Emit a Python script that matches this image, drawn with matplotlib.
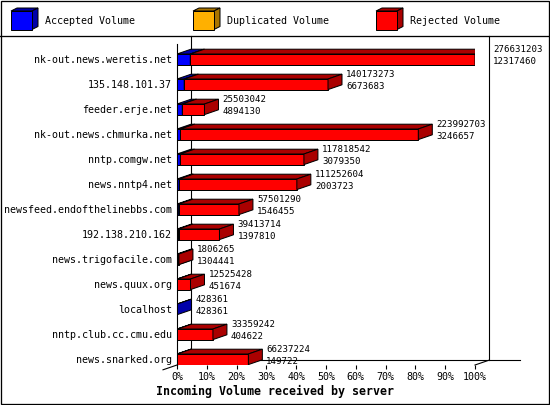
import matplotlib
matplotlib.use("Agg")
import matplotlib.pyplot as plt
from matplotlib.patches import Polygon, Rectangle

hosts = ['nk-out.news.weretis.net', '135.148.101.37', 'feeder.erje.net',
         'nk-out.news.chmurka.net', 'nntp.comgw.net', 'news.nntp4.net',
         'newsfeed.endofthelinebbs.com', '192.138.210.162', 'news.trigofacile.com',
         'news.quux.org', 'localhost', 'nntp.club.cc.cmu.edu', 'news.snarked.org']
total_volume = [276631203, 140173273, 25503042, 223992703, 117818542, 111252604,
                57501290, 39413714, 1806265, 12525428, 428361, 33359242, 66237224]
accepted_volume = [12317460, 6673683, 4894130, 3246657, 3079350, 2003723,
                   1546455, 1397810, 1304441, 451674, 428361, 404622, 149722]
duplicated_volume = [0] * 13
series_names = ['Accepted Volume', 'Duplicated Volume', 'Rejected Volume']
xtick_values = [0, 10, 20, 30, 40, 50, 60, 70, 80, 90, 100]
x_title = 'Incoming Volume received by server'

FRONT = ['#0000FF', '#FFB000', '#FF0000']
DARK = ['#0000AA', '#AA7500', '#AA0000']
MONO = 'DejaVu Sans Mono'
PX = 1.0 / 100 * 72  # one pixel in points at dpi 100

W, H = 550, 405
fig = plt.figure(figsize=(W / 100, H / 100), dpi=100)
fig.patch.set_facecolor('white')

# background / frame axes in pixel units
bg = fig.add_axes([0, 0, 1, 1])
bg.set_xlim(0, W)
bg.set_ylim(H, 0)
bg.axis('off')
bg.add_patch(Rectangle((0.5, 0.5), W - 1.5, H - 1.5, fill=False, ec='black', lw=PX * 1.3))
bg.plot([0, W], [35.5, 35.5], color='black', lw=PX * 1.3)

# legend
leg_x = [11, 193, 376]
for k, name in enumerate(series_names):
    x0 = leg_x[k]
    y0, y1 = 11, 29.5
    w = 21
    d, e = 6, 3
    bg.add_patch(Polygon([(x0, y0), (x0 + d, y0 - e), (x0 + w + d, y0 - e), (x0 + w, y0)],
                         closed=True, fc=DARK[k], ec='black', lw=PX))
    bg.add_patch(Polygon([(x0 + w, y0), (x0 + w + d, y0 - e), (x0 + w + d, y1 - e), (x0 + w, y1)],
                         closed=True, fc=DARK[k], ec='black', lw=PX))
    bg.add_patch(Rectangle((x0, y0), w, y1 - y0, fc=FRONT[k], ec='black', lw=PX))
    bg.text(x0 + 34, 20.5, name, family=MONO, fontsize=7.2, va='center', ha='left')

# main plotting axes: x in percent, y in row index
ax_left, ax_right = 177, 475
ax_top, ax_bot = 35.5, 365
row0, row_step = 59.3, 25.0
y_top = (ax_top - row0) / row_step
y_floor = (ax_bot - row0) / row_step
ax = fig.add_axes([ax_left / W, 1 - ax_bot / H, (ax_right - ax_left) / W, (ax_bot - ax_top) / H])
ax.patch.set_alpha(0)
ax.set_xlim(0, 100)
ax.set_ylim(y_floor, y_top)

px_x = 100.0 / (ax_right - ax_left)
DX = 14 * px_x
DY = 4.8 / row_step
half = 5.3 / row_step

# back walls
lw = PX * 1.1
ax.plot([DX, DX], [y_top, y_floor - DY], color='black', lw=lw, clip_on=False, zorder=1)
ax.plot([100 + DX, 100 + DX], [y_top, y_floor - DY], color='black', lw=lw, clip_on=False, zorder=1)
ax.plot([DX, (520 - ax_left) * px_x], [y_floor - DY, y_floor - DY], color='black', lw=lw,
        clip_on=False, zorder=1)
ax.plot([-DX, DX], [y_floor + DY, y_floor - DY], color='black', lw=lw, clip_on=False, zorder=1)
ax.plot([100, 100 + DX], [y_floor, y_floor - DY], color='black', lw=lw, clip_on=False, zorder=1)

vmax = max(total_volume)
for i in range(len(hosts)):
    rejected = total_volume[i] - accepted_volume[i] - duplicated_volume[i]
    segs = [accepted_volume[i], duplicated_volume[i], rejected]
    start = 0.0
    top, bot = i - half, i + half
    for k, v in enumerate(segs):
        if v <= 0:
            continue
        w = v / vmax * 100
        x0, x1 = start, start + w
        ax.add_patch(Polygon([(x0, bot), (x0, top), (x1, top), (x1, bot)], closed=True,
                             fc=FRONT[k], ec='black', lw=PX, zorder=3, joinstyle='miter'))
        ax.add_patch(Polygon([(x0, top), (x0 + DX, top - DY), (x1 + DX, top - DY), (x1, top)],
                             closed=True, fc=DARK[k], ec='black', lw=PX, zorder=3))
        ax.add_patch(Polygon([(x1, top), (x1 + DX, top - DY), (x1 + DX, bot - DY), (x1, bot)],
                             closed=True, fc=DARK[k], ec='black', lw=PX, zorder=3))
        start = x1
    xl = start + DX + 4 * px_x
    ax.text(xl, i - 0.38, str(total_volume[i]), family=MONO, fontsize=6.6,
            va='center', ha='left', zorder=4, clip_on=False)
    ax.text(xl, i + 0.08, str(accepted_volume[i]), family=MONO, fontsize=6.6,
            va='center', ha='left', zorder=4, clip_on=False)

# axes decorations
for s in ['top', 'right', 'bottom']:
    ax.spines[s].set_visible(False)
ax.spines['left'].set_linewidth(lw)
ax.spines['left'].set_bounds(y_floor, (44 - row0) / row_step)
ax.spines['left'].set_zorder(2)

ax.set_yticks(range(len(hosts)))
ax.set_yticklabels(hosts, family=MONO, fontsize=7.2)
ax.tick_params(axis='y', length=0, pad=3.6)
ax.set_xticks(xtick_values)
ax.set_xticklabels([f'{v}%' for v in xtick_values], family=MONO, fontsize=7.2)
ax.tick_params(axis='x', length=4 * PX * 1.0, width=lw, direction='out', pad=2.0)

fig.text(156 / W, 1 - 391.5 / H, x_title, family=MONO, fontweight='bold', fontsize=8.4,
         ha='left', va='center')

fig.savefig('out.png', dpi=100, facecolor='white')
